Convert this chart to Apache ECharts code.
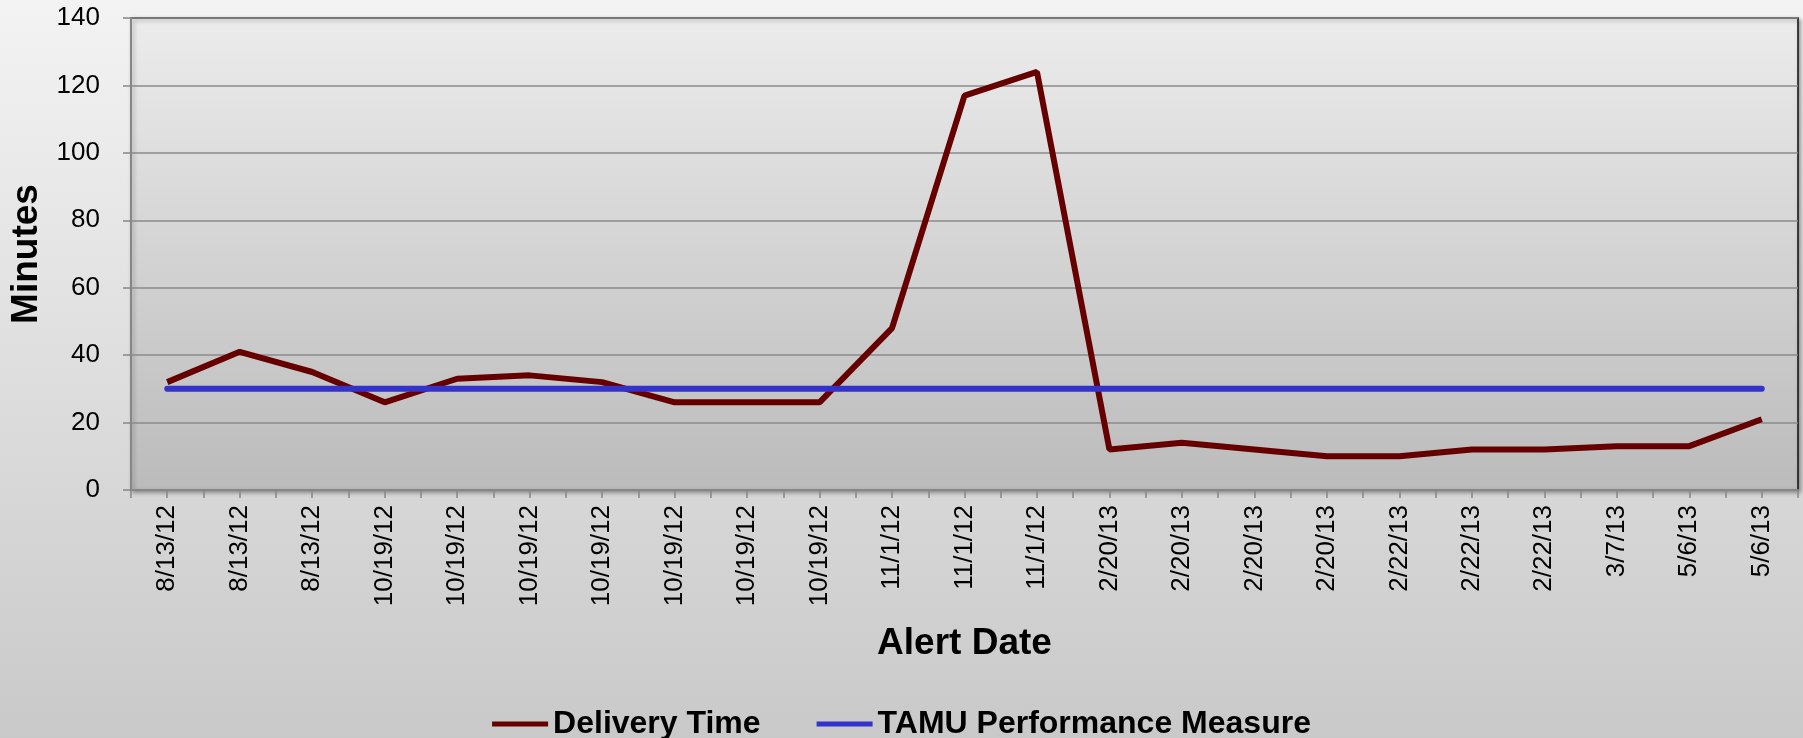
<!DOCTYPE html>
<html>
<head>
<meta charset="utf-8">
<script src="https://cdn.jsdelivr.net/npm/echarts@6/dist/echarts.min.js"></script>
<style>
  html, body { margin: 0; padding: 0; }
  #chart { width: 1803px; height: 738px; }
</style>
</head>
<body>
<div id="chart"></div>
<script>
var alertDates = ['8/13/12', '8/13/12', '8/13/12', '10/19/12', '10/19/12', '10/19/12', '10/19/12',
    '10/19/12', '10/19/12', '10/19/12', '11/1/12', '11/1/12', '11/1/12', '2/20/13', '2/20/13',
    '2/20/13', '2/20/13', '2/22/13', '2/22/13', '2/22/13', '3/7/13', '5/6/13', '5/6/13'];
var deliveryTime = [32, 41, 35, 26, 33, 34, 32, 26, 26, 26, 48, 117, 124, 12, 14, 12, 10, 10, 12, 12, 13, 13, 21];
var tamuMeasure = [30, 30, 30, 30, 30, 30, 30, 30, 30, 30, 30, 30, 30, 30, 30, 30, 30, 30, 30, 30, 30, 30, 30];
var yTicks = { min: 0, max: 140, step: 20 };

var font = "'Liberation Sans', Arial, sans-serif";

var chart = echarts.init(document.getElementById('chart'));

var options = {
    backgroundColor: {
        type: 'linear', x: 0, y: 0, x2: 0, y2: 1,
        colorStops: [{ offset: 0, color: '#f3f3f3' }, { offset: 1, color: '#c9c9c9' }]
    },
    textStyle: { fontFamily: font },
    animation: false,
    grid: {
        left: 131, top: 18, width: 1667, height: 472,
        show: true,
        backgroundColor: {
            type: 'linear', x: 0, y: 0, x2: 0, y2: 1,
            colorStops: [{ offset: 0, color: '#ececec' }, { offset: 1, color: '#bbbbbb' }]
        },
        borderColor: '#111',
        borderWidth: 1.5,
        shadowColor: 'rgba(0,0,0,0.35)',
        shadowBlur: 4,
        shadowOffsetX: 2,
        shadowOffsetY: 2
    },
    legend: {
        top: 703,
        left: 'center',
        icon: 'rect',
        itemWidth: 56,
        itemHeight: 5,
        itemGap: 56,
        textStyle: { fontSize: 32, fontWeight: 'bold', color: '#000', fontFamily: font },
        data: ['Delivery Time', 'TAMU Performance Measure']
    },
    xAxis: [
        {
            type: 'category',
            data: alertDates,
            boundaryGap: true,
            name: 'Alert Date',
            nameLocation: 'middle',
            nameGap: 135,
            nameTextStyle: { fontSize: 37, fontWeight: 'bold', color: '#000' },
            axisLine: { lineStyle: { color: '#868686', width: 2 } },
            axisTick: { show: true, length: 8, lineStyle: { color: '#868686', width: 1.5 } },
            axisLabel: { rotate: 90, fontSize: 26, color: '#000', margin: 15, interval: 0 }
        },
        {
            type: 'category',
            data: alertDates,
            boundaryGap: true,
            position: 'bottom',
            axisLine: { show: false },
            axisTick: { show: true, alignWithLabel: true, length: 8, lineStyle: { color: '#868686', width: 1.5 } },
            axisLabel: { show: false }
        }
    ],
    yAxis: {
        type: 'value',
        min: yTicks.min,
        max: yTicks.max,
        interval: yTicks.step,
        name: 'Minutes',
        nameLocation: 'middle',
        nameGap: 86,
        nameTextStyle: { fontSize: 37, fontWeight: 'bold', color: '#000' },
        axisLine: { show: true, lineStyle: { color: '#868686', width: 2 } },
        axisTick: { show: true, length: 8, lineStyle: { color: '#868686', width: 1.5 } },
        axisLabel: { fontSize: 26, color: '#000', margin: 31 },
        splitLine: { lineStyle: { color: '#8a8a8a', width: 1.5 } }
    },
    series: [
        {
            name: 'Delivery Time',
            type: 'line',
            data: deliveryTime,
            symbol: 'none',
            lineStyle: { color: '#660000', width: 6 },
            itemStyle: { color: '#660000' }
        },
        {
            name: 'TAMU Performance Measure',
            type: 'line',
            data: tamuMeasure,
            symbol: 'none',
            lineStyle: { color: '#3333cc', width: 6, cap: 'round' },
            itemStyle: { color: '#3333cc' }
        }
    ]
};

chart.setOption(options);

window.onresize = function () {
    chart.resize();
};
</script>
</body>
</html>
